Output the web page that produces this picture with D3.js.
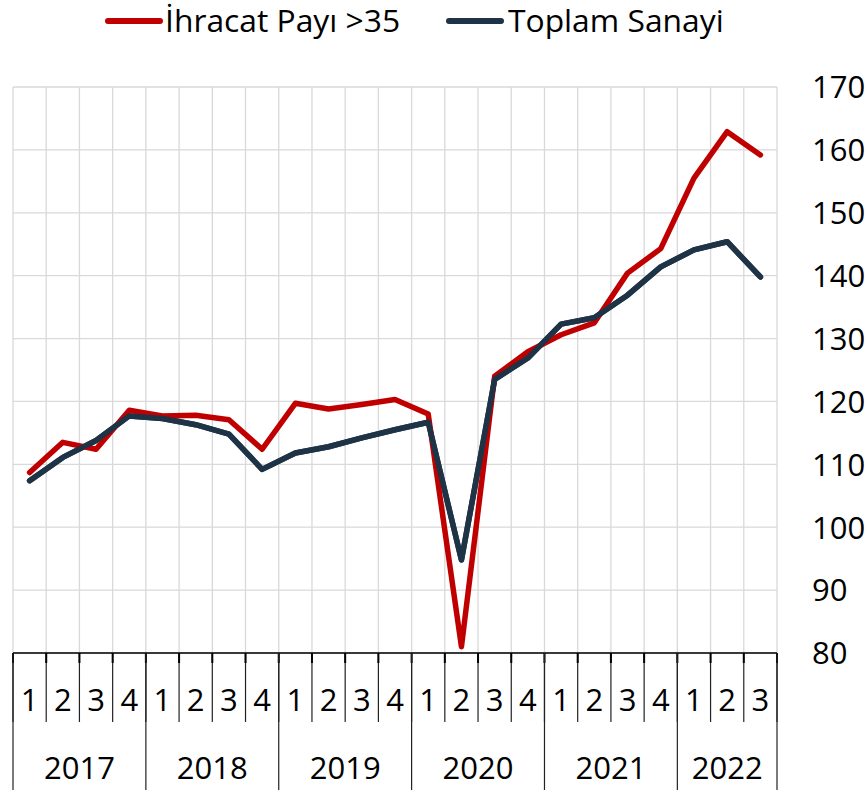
<!DOCTYPE html>
<html>
<head>
<meta charset="utf-8">
<script src="https://cdn.jsdelivr.net/npm/d3@7"></script>
<style>
  body { margin: 0; background: #fff; }
  svg text { font-family: "Open Sans", sans-serif; fill: #000; }
</style>
</head>
<body>
<div id="chart-area"></div>
<script>
// quarters 2017Q1 .. 2022Q3
const years = ["2017", "2018", "2019", "2020", "2021", "2022"];
const quarterCounts = [4, 4, 4, 4, 4, 3];
const seriesNames = ["İhracat Payı >35", "Toplam Sanayi"];
const ihracat = [108.7, 113.5, 112.4, 118.6, 117.7, 117.8, 117.1, 112.4,
  119.7, 118.8, 119.5, 120.3, 118.0, 81.0, 124.0, 127.9,
  130.6, 132.5, 140.4, 144.3, 155.5, 162.9, 159.2];
const toplam = [107.4, 111.1, 113.8, 117.7, 117.3, 116.3, 114.8, 109.2,
  111.8, 112.8, 114.2, 115.5, 116.7, 94.8, 123.5, 126.9,
  132.3, 133.3, 136.9, 141.4, 144.1, 145.4, 139.8];
const yTicks = [80, 90, 100, 110, 120, 130, 140, 150, 160, 170];
const colors = ["#c00000", "#1f3347"];

// build category list
let cats = [];
years.forEach((yr, i) => {
  for (let q = 1; q <= quarterCounts[i]; q++) cats.push({ year: yr, q: q, key: yr + "-" + q });
});

let margin = { top: 87, right: 89, bottom: 137, left: 13 },
  width = 866 - margin.left - margin.right,
  height = 790 - margin.top - margin.bottom;

let svg = d3.select("#chart-area")
  .append("svg")
  .attr("width", 866)
  .attr("height", 790);

let g = svg.append("g")
  .attr("transform", "translate(" + margin.left + "," + margin.top + ")");

let x = d3.scaleBand().domain(cats.map(d => d.key)).range([0, width]).padding(0);
let y = d3.scaleLinear().domain([80, 170]).range([height, 0]);

// grid
g.append("g").attr("class", "grid")
  .selectAll("line.h").data(yTicks).enter()
  .append("line")
  .attr("x1", 0).attr("x2", width)
  .attr("y1", d => y(d)).attr("y2", d => y(d))
  .attr("stroke", "#d9d9d9").attr("stroke-width", 1.3);

let bounds = cats.map(d => x(d.key)).concat([width]);
g.append("g").attr("class", "grid")
  .selectAll("line.v").data(bounds).enter()
  .append("line")
  .attr("x1", d => d).attr("x2", d => d)
  .attr("y1", 0).attr("y2", height)
  .attr("stroke", "#d9d9d9").attr("stroke-width", 1.3);

// right axis labels
let yAxis = d3.axisRight(y).tickValues(yTicks).tickSize(0).tickPadding(35);
let yAxisGroup = g.append("g")
  .attr("transform", "translate(" + width + ",0)")
  .call(yAxis);
yAxisGroup.select(".domain").remove();
yAxisGroup.selectAll("text")
  .style("font-size", "31px")
  .attr("dy", "0.35em");

// bottom: two level category axis
let xAxis = d3.axisBottom(x).tickSize(0).tickPadding(0).tickFormat(k => k.split("-")[1]);
let xAxisGroup = g.append("g")
  .attr("transform", "translate(0," + height + ")")
  .call(xAxis);
xAxisGroup.select(".domain").remove();
xAxisGroup.selectAll("text")
  .style("font-size", "31px")
  .attr("y", 47)
  .attr("dy", "0.35em");

let axisG = g.append("g").attr("transform", "translate(0," + height + ")");
axisG.append("line")
  .attr("x1", 0).attr("x2", width).attr("y1", 0).attr("y2", 0)
  .attr("stroke", "#000").attr("stroke-width", 1.3);

// quarter separators + ticks
axisG.selectAll("line.sep").data(bounds).enter()
  .append("line")
  .attr("x1", d => d).attr("x2", d => d)
  .attr("y1", 0).attr("y2", 69)
  .attr("stroke", "#222").attr("stroke-width", 1.2);
axisG.selectAll("line.tick").data(bounds).enter()
  .append("line")
  .attr("x1", d => d).attr("x2", d => d)
  .attr("y1", 0).attr("y2", 10)
  .attr("stroke", "#000").attr("stroke-width", 2);

// year groups
let yearStart = years.map(yr => x(yr + "-1"));
let yearEnd = years.map((yr, i) => x(yr + "-" + quarterCounts[i]) + x.bandwidth());
axisG.selectAll("line.year").data(yearStart.concat([width])).enter()
  .append("line")
  .attr("x1", d => d).attr("x2", d => d)
  .attr("y1", 0).attr("y2", 140)
  .attr("stroke", "#222").attr("stroke-width", 1.2);
axisG.selectAll("text.year").data(years).enter()
  .append("text")
  .attr("class", "year")
  .attr("x", (d, i) => (yearStart[i] + yearEnd[i]) / 2)
  .attr("y", 115)
  .attr("dy", "0.35em")
  .attr("text-anchor", "middle")
  .style("font-size", "31px")
  .text(d => d);

// lines
let line = d3.line()
  .x((d, i) => x(cats[i].key) + x.bandwidth() / 2)
  .y(d => y(d));

[toplam, ihracat, toplam].forEach((s, j) => {
  g.append("path")
    .datum(s)
    .attr("fill", "none")
    .attr("stroke", j === 1 ? colors[0] : colors[1])
    .attr("stroke-width", 5.5)
    .attr("stroke-linejoin", "round")
    .attr("stroke-linecap", "round")
    .attr("d", line);
});

// legend
let legendX = [106, 447];
let legendTextX = [59, 61];
let legend = svg.append("g").selectAll("g").data(seriesNames).enter()
  .append("g")
  .attr("transform", (d, i) => "translate(" + legendX[i] + ",21)");
legend.append("line")
  .attr("x1", 2).attr("x2", 54).attr("y1", 0).attr("y2", 0)
  .attr("stroke", (d, i) => colors[i])
  .attr("stroke-width", 6)
  .attr("stroke-linecap", "round");
legend.append("text")
  .attr("x", (d, i) => legendTextX[i])
  .attr("dy", "0.35em")
  .style("font-size", "31.8px")
  .text(d => d);
</script>
</body>
</html>
